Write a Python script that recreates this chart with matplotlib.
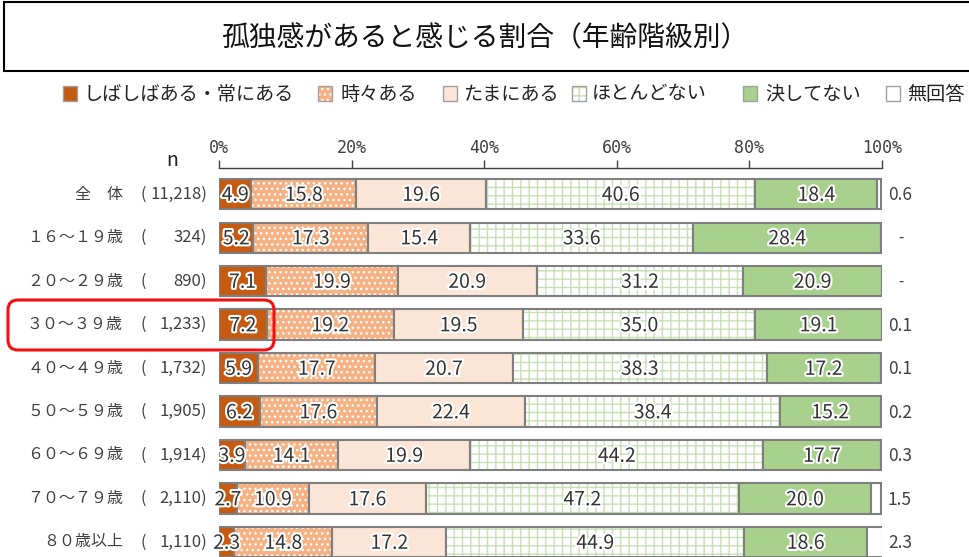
import matplotlib
matplotlib.use("Agg")
import matplotlib.pyplot as plt
import matplotlib.patheffects as pe
from matplotlib.patches import Rectangle, FancyBboxPatch
from matplotlib.transforms import blended_transform_factory

plt.rcParams['font.family'] = ['Noto Sans CJK JP', 'DejaVu Sans']

# ---- data ----
title = "孤独感があると感じる割合（年齢階級別）"
answers = ["しばしばある・常にある", "時々ある", "たまにある", "ほとんどない", "決してない", "無回答"]
groups = ["全　体", "１６～１９歳", "２０～２９歳", "３０～３９歳", "４０～４９歳",
          "５０～５９歳", "６０～６９歳", "７０～７９歳", "８０歳以上"]
n_counts = ["11,218", "324", "890", "1,233", "1,732", "1,905", "1,914", "2,110", "1,110"]
often = [4.9, 5.2, 7.1, 7.2, 5.9, 6.2, 3.9, 2.7, 2.3]
sometimes = [15.8, 17.3, 19.9, 19.2, 17.7, 17.6, 14.1, 10.9, 14.8]
occasionally = [19.6, 15.4, 20.9, 19.5, 20.7, 22.4, 19.9, 17.6, 17.2]
hardly = [40.6, 33.6, 31.2, 35.0, 38.3, 38.4, 44.2, 47.2, 44.9]
never = [18.4, 28.4, 20.9, 19.1, 17.2, 15.2, 17.7, 20.0, 18.6]
no_answer = [0.6, 0.0, 0.0, 0.1, 0.1, 0.2, 0.3, 1.5, 2.3]
series = [often, sometimes, occasionally, hardly, never, no_answer]

# face colour, hatch colour, hatch
styles = [
    ("#C55A11", "#C55A11", None),
    ("#F4B183", "white", "..."),
    ("#FBE5D6", "#FBE5D6", None),
    ("white", "#C5E0B4", "++"),
    ("#A9D18E", "#A9D18E", None),
    ("white", "white", None),
]
edge = "#7F7F7F"
txt = "#404040"

W, H = 969, 557
fig = plt.figure(figsize=(W / 100, H / 100), dpi=100)

# title box
fig.patches.append(Rectangle((4 / 100, (H - 71) / 100), 10, 69 / 100, transform=fig.dpi_scale_trans,
                             facecolor="white", edgecolor="black", linewidth=1.5))
fig.text(0.5, 1 - 38 / H, title, ha="center", va="center", fontsize=20, color="#111111")

# legend (drawn by hand to match spacing)
sq_x = [63, 318, 443, 572, 743, 886]
lab_x = [83, 340, 463, 592, 765, 907]
for (fc, hc, hatch), sx, lx, name in zip(styles, sq_x, lab_x, answers):
    fig.patches.append(Rectangle((sx / 100, (H - 101) / 100), 14 / 100, 15 / 100,
                                 transform=fig.dpi_scale_trans, facecolor=fc,
                                 edgecolor=hc, hatch=hatch, linewidth=0))
    fig.patches.append(Rectangle((sx / 100, (H - 101) / 100), 14 / 100, 15 / 100,
                                 transform=fig.dpi_scale_trans, fill=False,
                                 edgecolor="#A0A0A0", linewidth=1))
    fig.text(lx / W, 1 - 94 / H, name, ha="left", va="center", fontsize=13.8, color="#222222")

# main axes: 0% at x=219px, 100% at x=882px, axis line at y=168px
ax = fig.add_axes([219 / W, 0, (882 - 219) / W, 1 - 168 / H])
ypos = list(range(len(groups)))
left = [0.0] * len(groups)
for vals, (fc, hc, hatch) in zip(series, styles):
    ax.barh(ypos, vals, left=left, height=0.69, color=fc, edgecolor=hc, hatch=hatch, linewidth=0)
    ax.barh(ypos, vals, left=left, height=0.69, fill=False, edgecolor=edge, linewidth=1.5)
    left = [l + v for l, v in zip(left, vals)]

# value labels inside bars
stroke = [pe.withStroke(linewidth=3, foreground="white")]
starts = [0.0] * len(groups)
for vals in series[:-1]:
    for i, v in enumerate(vals):
        ax.text(starts[i] + v / 2, i + 0.03, f"{v:.1f}", ha="center", va="center",
                fontsize=14, color="#333333", path_effects=stroke)
    starts = [s + v for s, v in zip(starts, vals)]

# no-answer labels to the right
for i, v in enumerate(no_answer):
    if v == 0:
        ax.text(102.8, i, "-", ha="center", va="center", fontsize=11, color=txt, clip_on=False)
    else:
        ax.text(100.9, i + 0.03, f"{v:.1f}", ha="left", va="center", fontsize=12.5, color=txt, clip_on=False)

ax.set_xlim(0, 100)
ax.set_ylim(8.345, -0.598)
ax.xaxis.tick_top()
ax.set_xticks([0, 20, 40, 60, 80, 100])
ax.set_xticklabels([f"{t}%" for t in [0, 20, 40, 60, 80, 100]], fontfamily="DejaVu Sans Mono",
                   fontsize=12, color=txt)
ax.tick_params(axis="x", direction="out", length=6, width=1, color=txt, pad=2)
ax.set_yticks([])
for s in ["bottom", "left", "right"]:
    ax.spines[s].set_visible(False)
ax.spines["top"].set_color(txt)
ax.spines["top"].set_linewidth(1)
ax.patch.set_alpha(0)

# row labels
tr = blended_transform_factory(fig.transFigure, ax.transData)
for i, (g, n) in enumerate(zip(groups, n_counts)):
    ax.text(123 / W, i, g, transform=tr, ha="right", va="center", fontsize=11.5, color=txt, clip_on=False)
    ax.text(140 / W, i, "(", transform=tr, ha="left", va="center", fontsize=11.5, color=txt, clip_on=False)
    ax.text(207 / W, i, n + ")", transform=tr, ha="right", va="center", fontsize=12, color=txt, clip_on=False)
fig.text(172 / W, 1 - 160 / H, "n", ha="center", va="center", fontsize=14, color="#222222")

# highlight box round 30-39
fig.patches.append(FancyBboxPatch((8 / 100, (H - 350) / 100), 266 / 100, 50 / 100,
                                  boxstyle="round,pad=0,rounding_size=0.1",
                                  transform=fig.dpi_scale_trans, fill=False,
                                  edgecolor="#F01010", linewidth=2.2, zorder=10))

plt.savefig("out.png", dpi=100)
plt.close()
